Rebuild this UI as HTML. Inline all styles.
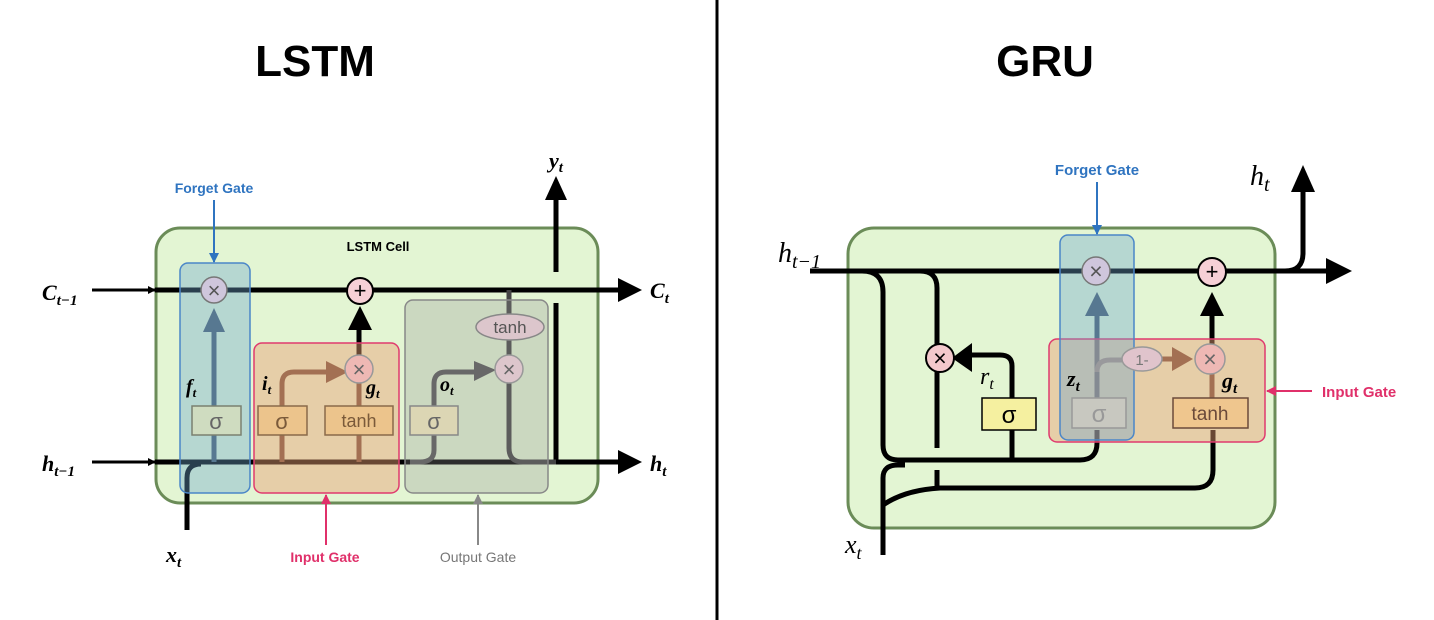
<!DOCTYPE html>
<html><head><meta charset="utf-8"><style>
html,body{margin:0;padding:0;background:#fff;}
svg{display:block;}
text{font-family:"Liberation Sans",sans-serif;}
.m{font-family:"Liberation Serif",serif;font-style:italic;font-weight:bold;}
.s{font-family:"Liberation Serif",serif;font-style:italic;}
</style></head><body>
<svg width="1434" height="620" viewBox="0 0 1434 620" xmlns="http://www.w3.org/2000/svg">
<defs>
<marker id="ab" markerWidth="8" markerHeight="8" refX="7" refY="4" orient="auto" markerUnits="userSpaceOnUse"><path d="M0,0L8,4L0,8z" fill="#000"/></marker>
<marker id="abl" markerWidth="10" markerHeight="10" refX="9" refY="5" orient="auto" markerUnits="userSpaceOnUse"><path d="M0,0L10,5L0,10z" fill="#2f74c0"/></marker>
<marker id="apk" markerWidth="10" markerHeight="10" refX="9" refY="5" orient="auto" markerUnits="userSpaceOnUse"><path d="M0,0L10,5L0,10z" fill="#e0306a"/></marker>
<marker id="agr" markerWidth="10" markerHeight="10" refX="9" refY="5" orient="auto" markerUnits="userSpaceOnUse"><path d="M0,0L10,5L0,10z" fill="#888"/></marker>
</defs>
<line x1="717" y1="0" x2="717" y2="620" stroke="#000" stroke-width="3"/>
<text x="315" y="76" font-size="44" font-weight="bold" text-anchor="middle">LSTM</text>
<text x="1045" y="76" font-size="44" font-weight="bold" text-anchor="middle">GRU</text>

<!-- LSTM -->
<rect x="156" y="228" width="442" height="275" rx="24" fill="#e3f5d3" stroke="#6b8c58" stroke-width="3"/>
<text x="378" y="251" font-size="13" font-weight="bold" text-anchor="middle">LSTM Cell</text>
<line x1="556" y1="195" x2="556" y2="272" stroke="#000" stroke-width="5"/>
<line x1="556" y1="303" x2="556" y2="462" stroke="#000" stroke-width="5"/>
<path d="M545,200L556,176L567,200z" fill="#000"/>
<text x="556" y="168" class="m" font-size="22" text-anchor="middle">y<tspan font-size="15" dy="4">t</tspan></text>
<line x1="92" y1="290" x2="155" y2="290" stroke="#000" stroke-width="3" marker-end="url(#ab)"/>
<line x1="155" y1="290" x2="620" y2="290" stroke="#000" stroke-width="5"/>
<path d="M618,278L642,290L618,302z" fill="#000"/>
<line x1="92" y1="462" x2="155" y2="462" stroke="#000" stroke-width="3" marker-end="url(#ab)"/>
<line x1="155" y1="462" x2="620" y2="462" stroke="#000" stroke-width="5"/>
<path d="M618,450L642,462L618,474z" fill="#000"/>
<text x="42" y="300" class="m" font-size="22">C<tspan font-size="15" dy="5">t−1</tspan></text>
<text x="42" y="471" class="m" font-size="22">h<tspan font-size="15" dy="5">t−1</tspan></text>
<text x="650" y="298" class="m" font-size="22">C<tspan font-size="15" dy="5">t</tspan></text>
<text x="650" y="471" class="m" font-size="22">h<tspan font-size="15" dy="5">t</tspan></text>
<path d="M187,530L187,478Q187,464 201,464" fill="none" stroke="#000" stroke-width="5"/>
<text x="166" y="562" class="m" font-size="22">x<tspan font-size="15" dy="5">t</tspan></text>
<line x1="214" y1="462" x2="214" y2="330" stroke="#4a5c6c" stroke-width="5"/>
<path d="M203,332L214,308L225,332z" fill="#4a5c6c"/>
<path d="M282,462L282,384Q282,372 294,372L330,372" fill="none" stroke="#6b4a3a" stroke-width="5"/>
<path d="M326,361L348,372L326,383z" fill="#6b4a3a"/>
<line x1="359" y1="462" x2="359" y2="382" stroke="#6b4a3a" stroke-width="5"/>
<line x1="359" y1="355" x2="359" y2="325" stroke="#000" stroke-width="5"/>
<path d="M348,330L360,306L372,330z" fill="#000"/>
<path d="M410,462L420,462Q434,462 434,450L434,384Q434,372 446,372L478,372" fill="none" stroke="#555" stroke-width="5"/>
<path d="M474,361L496,370L474,381z" fill="#555"/>
<path d="M509,290L509,448Q509,462 523,462L556,462" fill="none" stroke="#444" stroke-width="5"/>
<rect x="180" y="263" width="70" height="230" rx="8" fill="rgba(110,165,205,0.38)" stroke="#4a86c8" stroke-width="1.5"/>
<rect x="254" y="343" width="145" height="150" rx="8" fill="rgba(232,160,115,0.45)" stroke="#e03a6e" stroke-width="1.5"/>
<rect x="405" y="300" width="143" height="193" rx="8" fill="rgba(150,150,150,0.3)" stroke="#888" stroke-width="1.5"/>
<rect x="192" y="406" width="49" height="29" fill="#cfdcc0" stroke="#7a8070" stroke-width="1.5"/>
<text x="216" y="429" font-size="22" text-anchor="middle" fill="#666">σ</text>
<rect x="258" y="406" width="49" height="29" fill="#ecc48c" stroke="#8a6a4a" stroke-width="1.5"/>
<text x="282" y="429" font-size="22" text-anchor="middle" fill="#7a5a3a">σ</text>
<rect x="325" y="406" width="68" height="29" fill="#ecc48c" stroke="#8a6a4a" stroke-width="1.5"/>
<text x="359" y="427" font-size="18" text-anchor="middle" fill="#7a5a3a">tanh</text>
<rect x="410" y="406" width="48" height="29" fill="#dcd6b4" stroke="#888" stroke-width="1.5"/>
<text x="434" y="429" font-size="22" text-anchor="middle" fill="#666">σ</text>
<ellipse cx="510" cy="327" rx="34" ry="13" fill="#dcc6cc" stroke="#888" stroke-width="1.5"/>
<text x="510" y="333" font-size="17" text-anchor="middle" fill="#555">tanh</text>
<circle cx="214" cy="290" r="13" fill="#cfc6dc" stroke="#777" stroke-width="1.5"/>
<text x="214" y="298" font-size="22" text-anchor="middle" fill="#555">×</text>
<circle cx="360" cy="291" r="13" fill="#f6d0d6" stroke="#000" stroke-width="2"/>
<text x="360" y="298" font-size="22" text-anchor="middle">+</text>
<circle cx="359" cy="369" r="14" fill="#eeb8b4" stroke="#999" stroke-width="1.5"/>
<text x="359" y="377" font-size="22" text-anchor="middle" fill="#666">×</text>
<circle cx="509" cy="369" r="14" fill="#ddc6cc" stroke="#999" stroke-width="1.5"/>
<text x="509" y="377" font-size="22" text-anchor="middle" fill="#666">×</text>
<text x="186" y="393" class="m" font-size="20">f<tspan font-size="13" dy="4">t</tspan></text>
<text x="262" y="390" class="m" font-size="20">i<tspan font-size="13" dy="4">t</tspan></text>
<text x="366" y="394" class="m" font-size="20">g<tspan font-size="13" dy="4">t</tspan></text>
<text x="440" y="391" class="m" font-size="20">o<tspan font-size="13" dy="4">t</tspan></text>
<text x="214" y="193" font-size="14" font-weight="bold" fill="#2f74c0" text-anchor="middle">Forget Gate</text>
<line x1="214" y1="200" x2="214" y2="262" stroke="#2f74c0" stroke-width="2" marker-end="url(#abl)"/>
<text x="325" y="562" font-size="14" font-weight="bold" fill="#e0306a" text-anchor="middle">Input Gate</text>
<line x1="326" y1="545" x2="326" y2="495" stroke="#e0306a" stroke-width="2" marker-end="url(#apk)"/>
<text x="478" y="562" font-size="14" fill="#777" text-anchor="middle">Output Gate</text>
<line x1="478" y1="545" x2="478" y2="495" stroke="#888" stroke-width="2" marker-end="url(#agr)"/>

<!-- GRU -->
<rect x="848" y="228" width="427" height="300" rx="26" fill="#e3f5d3" stroke="#6b8c58" stroke-width="3"/>
<line x1="810" y1="271" x2="1330" y2="271" stroke="#000" stroke-width="5"/>
<path d="M1326,258L1352,271L1326,284z" fill="#000"/>
<path d="M1285,271Q1303,271 1303,253L1303,190" fill="none" stroke="#000" stroke-width="5"/>
<path d="M1291,192L1303,165L1315,192z" fill="#000"/>
<text x="778" y="262" class="s" font-size="28">h<tspan font-size="20" dy="6">t−1</tspan></text>
<text x="1250" y="185" class="s" font-size="28">h<tspan font-size="20" dy="6">t</tspan></text>
<text x="845" y="553" class="s" font-size="26">x<tspan font-size="18" dy="6">t</tspan></text>
<path d="M862,271Q883,271 883,292L883,445Q883,460 898,460L1080,460Q1097,460 1097,443L1097,430" fill="none" stroke="#000" stroke-width="5"/>
<path d="M920,271Q937,271 937,288L937,448" fill="none" stroke="#000" stroke-width="5"/>
<line x1="937" y1="470" x2="937" y2="488" stroke="#000" stroke-width="5"/>
<path d="M883,555L883,478Q883,465 898,465L905,465" fill="none" stroke="#000" stroke-width="5"/>
<path d="M883,505Q905,490 940,488L1195,488Q1213,488 1213,470L1213,430" fill="none" stroke="#000" stroke-width="5"/>
<path d="M1012,460L1012,366Q1012,355 1000,355L968,355" fill="none" stroke="#000" stroke-width="5"/>
<path d="M972,343L952,358L972,372z" fill="#000"/>
<line x1="1097" y1="398" x2="1097" y2="310" stroke="#4a5c6c" stroke-width="5"/>
<path d="M1085,316L1097,292L1109,316z" fill="#4a5c6c"/>
<path d="M1097,372Q1097,360 1110,360L1125,360" fill="none" stroke="#888" stroke-width="5"/>
<line x1="1160" y1="359" x2="1180" y2="359" stroke="#6b4a3a" stroke-width="5"/>
<path d="M1172,347L1193,359L1172,371z" fill="#6b4a3a"/>
<line x1="1212" y1="398" x2="1212" y2="372" stroke="#6b4a3a" stroke-width="5"/>
<line x1="1212" y1="346" x2="1212" y2="310" stroke="#000" stroke-width="5"/>
<path d="M1200,316L1212,292L1224,316z" fill="#000"/>
<rect x="1049" y="339" width="216" height="103" rx="8" fill="rgba(232,160,115,0.45)" stroke="#e03a6e" stroke-width="1.5"/>
<rect x="1060" y="235" width="74" height="205" rx="8" fill="rgba(110,165,205,0.38)" stroke="#4a86c8" stroke-width="1.5"/>
<rect x="982" y="398" width="54" height="32" fill="#f5f0a0" stroke="#000" stroke-width="1.5"/>
<text x="1009" y="423" font-size="24" text-anchor="middle">σ</text>
<rect x="1072" y="398" width="54" height="30" fill="#c8c8c0" stroke="#999" stroke-width="1.5"/>
<text x="1099" y="422" font-size="24" text-anchor="middle" fill="#999">σ</text>
<rect x="1173" y="398" width="75" height="30" fill="#efc68e" stroke="#6b4a3a" stroke-width="1.5"/>
<text x="1210" y="420" font-size="19" text-anchor="middle" fill="#6b4a3a">tanh</text>
<ellipse cx="1142" cy="359" rx="20" ry="12" fill="#e0c4cc" stroke="#999" stroke-width="1.5"/>
<text x="1142" y="365" font-size="15" text-anchor="middle" fill="#777">1-</text>
<circle cx="1096" cy="271" r="14" fill="#cfc6dc" stroke="#777" stroke-width="1.5"/>
<text x="1096" y="279" font-size="23" text-anchor="middle" fill="#555">×</text>
<circle cx="1212" cy="272" r="14" fill="#f6d0d6" stroke="#000" stroke-width="2"/>
<text x="1212" y="279" font-size="22" text-anchor="middle">+</text>
<circle cx="940" cy="358" r="14" fill="#f3c8cc" stroke="#000" stroke-width="2"/>
<text x="940" y="366" font-size="23" text-anchor="middle">×</text>
<circle cx="1210" cy="359" r="15" fill="#eeb8b4" stroke="#999" stroke-width="1.5"/>
<text x="1210" y="367" font-size="23" text-anchor="middle" fill="#666">×</text>
<text x="980" y="384" class="s" font-size="24">r<tspan font-size="16" dy="5">t</tspan></text>
<text x="1067" y="386" class="m" font-size="22">z<tspan font-size="15" dy="5">t</tspan></text>
<text x="1222" y="388" class="m" font-size="22">g<tspan font-size="15" dy="5">t</tspan></text>
<text x="1097" y="175" font-size="15" font-weight="bold" fill="#2f74c0" text-anchor="middle">Forget Gate</text>
<line x1="1097" y1="182" x2="1097" y2="234" stroke="#2f74c0" stroke-width="2" marker-end="url(#abl)"/>
<text x="1322" y="397" font-size="15" font-weight="bold" fill="#e0306a">Input Gate</text>
<line x1="1312" y1="391" x2="1267" y2="391" stroke="#e0306a" stroke-width="2" marker-end="url(#apk)"/>
</svg>
</body></html>
